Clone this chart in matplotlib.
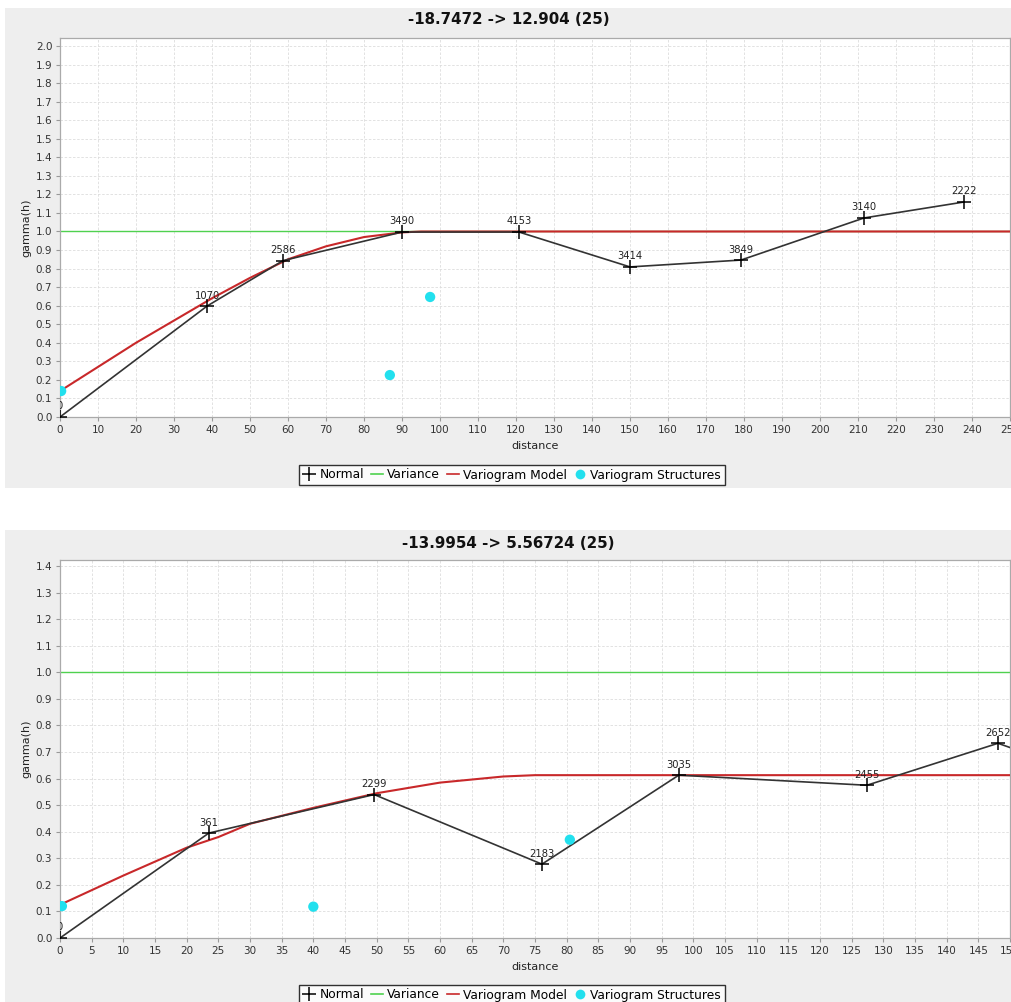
import matplotlib.pyplot as plt
from matplotlib.patches import Rectangle
from matplotlib.lines import Line2D

# ---- top variogram: -18.7472 -> 12.904 ----
top_title = "-18.7472 -> 12.904 (25)"
top_dist = [0, 38.7, 58.7, 90, 120.8, 150, 179.2, 211.6, 237.9]
top_gamma = [0.0, 0.598, 0.843, 0.997, 0.997, 0.809, 0.846, 1.073, 1.159]
top_pairs = ["0", "1070", "2586", "3490", "4153", "3414", "3849", "3140", "2222"]
top_model_x = [0, 10, 20, 30, 40, 50, 60, 70, 80, 90, 95, 260]
top_model_y = [0.14, 0.27, 0.40, 0.52, 0.64, 0.75, 0.85, 0.92, 0.97, 0.995, 1.0, 1.0]
top_struct_x = [0.3, 86.8, 97.4]
top_struct_y = [0.14, 0.226, 0.647]
top_variance = 1.0

# ---- bottom variogram: -13.9954 -> 5.56724 ----
bot_title = "-13.9954 -> 5.56724 (25)"
bot_dist = [0, 23.5, 49.6, 76.1, 97.7, 127.4, 148.1, 158]
bot_gamma = [0.0, 0.395, 0.54, 0.278, 0.613, 0.575, 0.733, 0.65]
bot_pairs = ["0", "361", "2299", "2183", "3035", "2455", "2652", ""]
bot_model_x = [0, 10, 20, 25, 30, 40, 50, 60, 70, 75, 160]
bot_model_y = [0.125, 0.235, 0.34, 0.38, 0.43, 0.49, 0.545, 0.585, 0.608, 0.613, 0.613]
bot_struct_x = [0.3, 40, 80.5]
bot_struct_y = [0.12, 0.118, 0.37]
bot_variance = 1.0

W, H = 1012, 1002
fig = plt.figure(figsize=(W / 100, H / 100), dpi=100)
fig.patch.set_facecolor("white")

PANEL = "#eeeeee"
GREEN = "#4fd14f"
RED = "#c8282a"
CYAN = "#22e0ee"
LINE = "#333333"


def px_rect(x0, y0, x1, y1):
    # pixel box (top-left origin) -> figure fraction [left, bottom, width, height]
    return [x0 / W, 1 - y1 / H, (x1 - x0) / W, (y1 - y0) / H]


def panel(bg, ax_box, title, title_y, xlabel_y, legend_y, xmax, xstep, ymax, ytop,
          dist, gamma, pairs, mx, my, sx, sy, var):
    l, b, w, h = px_rect(*bg)
    fig.patches.append(Rectangle((l, b), w, h, transform=fig.transFigure,
                                 facecolor=PANEL, edgecolor="none", zorder=-10))
    ax = fig.add_axes(px_rect(*ax_box))
    ax.set_zorder(1)
    ax.set_facecolor("white")

    ax.axhline(var, color=GREEN, lw=1.0, zorder=2)
    ax.plot(mx, my, color=RED, lw=1.5, zorder=3)
    ax.plot(dist, gamma, color=LINE, lw=1.2, marker="+", ms=10, mew=1.1,
            mec="black", zorder=4)
    ax.scatter(sx, sy, s=55, color=CYAN, edgecolors="none", zorder=5, clip_on=True)

    for x, y, lbl in zip(dist, gamma, pairs):
        t = ax.annotate(lbl, (x, y), xytext=(0, 4), textcoords="offset points",
                        ha="center", va="bottom", fontsize=7.2, color="#222222")
        t.set_clip_on(True)
        t.set_clip_box(ax.bbox)

    ax.set_xlim(0, xmax)
    ax.set_ylim(0, ytop)
    ax.set_xticks([i * xstep for i in range(int(xmax / xstep) + 1)])
    ax.set_yticks([i / 10 for i in range(int(round(ymax * 10)) + 1)])
    ax.yaxis.set_major_formatter(plt.FuncFormatter(lambda v, p: f"{v:.1f}"))
    ax.tick_params(labelsize=7.5, colors="#999999", labelcolor="#333333",
                   length=3, width=0.8, pad=2.5)
    ax.grid(True, color="#dddddd", lw=0.6, ls=(0, (3, 2)))
    ax.set_axisbelow(True)
    for s in ax.spines.values():
        s.set_color("#aaaaaa")
        s.set_linewidth(0.9)

    ax.set_ylabel("gamma(h)", fontsize=8, color="#222222", labelpad=3)
    cx = (bg[0] + bg[2]) / 2 / W
    fig.text(cx, 1 - title_y / H, title, ha="center", va="center",
             fontsize=10.8, fontweight="bold", color="#111111")
    fig.text((ax_box[0] + ax_box[2]) / 2 / W, 1 - xlabel_y / H, "distance",
             ha="center", va="center", fontsize=8, color="#222222")

    handles = [
        Line2D([], [], ls="none", marker="+", ms=10, mew=1.1, color="black"),
        Line2D([], [], color=GREEN, lw=1.2),
        Line2D([], [], color=RED, lw=1.2),
        Line2D([], [], ls="none", marker="o", ms=7, color=CYAN, mec="none"),
    ]
    leg = fig.legend(handles, ["Normal", "Variance", "Variogram Model", "Variogram Structures"],
                     loc="center", bbox_to_anchor=(512 / W, 1 - legend_y / H), ncol=4,
                     fontsize=8.8, frameon=True, fancybox=False, handlelength=1.0,
                     handletextpad=0.35, columnspacing=0.55, borderpad=0.3,
                     borderaxespad=0)
    leg.get_frame().set_edgecolor("black")
    leg.get_frame().set_linewidth(1.0)
    leg.get_frame().set_facecolor("white")
    leg.set_zorder(5)
    return ax


panel((5, 8, 1012, 488), (60, 38, 1010, 417), top_title, 20, 446, 475,
      250, 10, 2.0, 2.043, top_dist, top_gamma, top_pairs,
      top_model_x, top_model_y, top_struct_x, top_struct_y, top_variance)

panel((5, 530, 1012, 1010), (60, 560, 1010, 938), bot_title, 543, 967, 995,
      150, 5, 1.4, 1.423, bot_dist, bot_gamma, bot_pairs,
      bot_model_x, bot_model_y, bot_struct_x, bot_struct_y, bot_variance)

fig.savefig("out.png", dpi=100)
